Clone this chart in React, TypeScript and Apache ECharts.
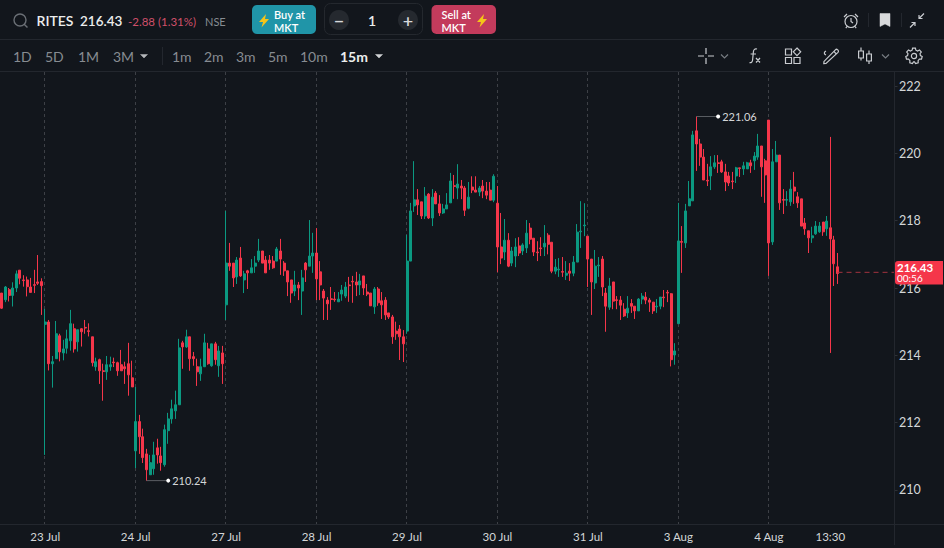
import React, { useEffect, useRef } from "react";
import * as echarts from "echarts";

const opens = [
  215.85,215.65,215.95,215.78,216.00,216.53,216.24,216.24,216.03,216.10,216.18,216.19,
  214.92,214.99,213.75,213.90,214.58,214.07,214.21,214.43,214.79,214.40,214.79,214.83,214.73,214.55,213.66,213.87,213.54,213.51,213.66,213.80,213.78,213.72,213.66,213.75,213.33,
  211.16,212.03,211.58,211.07,210.45,210.63,211.25,211.01,210.75,211.76,212.11,212.35,212.53,214.37,214.25,214.55,213.96,213.66,213.45,213.66,214.19,213.69,214.34,213.69,214.07,
  215.50,216.74,216.74,216.33,216.89,216.24,216.51,216.45,216.65,216.83,217.10,216.83,216.83,216.80,216.80,217.10,216.74,216.51,216.24,215.91,216.09,215.91,216.74,216.65,216.95,
  217.04,216.48,215.91,215.64,215.68,215.67,215.59,215.82,215.76,216.09,216.20,216.18,216.09,216.36,215.88,215.85,215.44,215.97,215.62,215.64,215.26,215.14,214.72,214.78,214.55,
  214.72,216.80,218.44,218.62,218.56,218.14,218.79,218.08,218.82,218.50,218.23,218.35,218.53,219.04,218.97,219.03,218.97,218.37,219.00,218.91,218.85,219.03,218.88,218.91,218.61,
  218.52,217.22,217.07,217.42,216.74,216.95,217.25,217.10,217.19,217.78,217.48,217.07,217.19,217.22,217.57,217.36,216.50,216.54,216.49,216.38,216.50,216.44,216.77,217.67,217.85,
  217.54,216.86,216.15,216.66,216.86,215.85,215.43,216.18,215.65,215.64,215.37,215.26,215.54,215.46,215.32,215.67,215.73,215.64,215.58,215.44,215.46,215.73,215.87,215.83,214.01,
  214.94,217.38,217.34,218.44,218.59,220.67,220.28,219.89,219.20,219.33,219.60,219.72,219.75,219.45,219.33,219.18,219.33,219.57,219.54,219.54,219.72,219.78,219.89,220.22,219.78,
  220.99,217.37,219.75,219.95,218.63,218.61,218.56,219.00,218.71,218.65,217.93,217.70,217.49,217.61,217.67,217.96,217.76,217.79,217.43,216.63,
];
const closes = [
  215.40,216.03,215.78,216.00,216.42,216.29,216.22,216.04,215.87,216.08,216.14,216.07,
  214.99,213.75,213.81,214.64,214.10,214.19,214.49,214.94,214.19,214.76,214.70,214.81,214.71,213.78,213.81,213.54,213.52,213.72,213.72,213.78,213.54,213.54,213.60,213.42,213.06,
  212.03,211.58,210.96,210.60,210.81,211.04,211.04,210.81,211.79,212.11,212.41,212.53,214.22,214.25,214.55,213.90,213.90,213.51,213.66,214.37,213.75,214.34,213.87,214.13,213.75,
  216.74,216.65,216.30,216.83,216.36,216.42,216.45,216.60,216.74,217.10,216.74,216.45,216.74,216.60,217.16,216.86,216.51,216.18,215.85,216.09,216.00,216.30,216.54,216.95,217.04,
  216.27,216.09,215.70,215.53,215.66,215.65,215.67,215.94,216.03,216.07,216.18,216.09,216.21,216.00,215.82,215.47,215.97,215.56,215.50,215.20,215.14,214.55,214.64,214.55,214.34,
  216.80,218.29,218.62,218.47,218.14,218.73,218.08,218.70,218.50,218.23,218.35,218.47,219.18,219.02,219.09,218.97,218.31,218.70,218.91,218.85,218.97,218.88,218.76,218.61,219.32,
  217.22,216.89,217.42,216.65,217.10,217.22,217.04,217.28,217.63,217.45,217.07,217.05,217.17,217.33,217.30,216.50,216.62,216.56,216.47,216.44,216.44,216.77,217.66,217.69,217.87,
  216.86,216.18,216.65,216.68,216.03,215.46,216.06,215.61,215.63,215.49,215.17,215.40,215.46,215.32,215.67,215.76,215.64,215.58,215.32,215.46,215.73,215.71,215.85,213.87,214.13,
  217.40,217.36,218.29,218.65,220.55,220.28,219.89,219.21,219.18,219.60,219.72,219.70,219.45,219.15,219.12,219.16,219.57,219.55,219.63,219.72,219.63,219.92,220.22,219.60,219.36,
  217.34,219.75,219.95,218.53,218.61,218.63,218.94,218.88,218.53,217.84,217.76,217.49,217.55,217.84,217.84,217.67,217.99,217.46,216.72,216.43,
];
const highs = [
  215.85,216.06,216.00,216.17,216.52,216.53,216.38,216.34,216.30,216.54,216.98,216.29,
  215.38,215.05,213.98,215.02,214.64,214.46,214.76,215.35,214.94,214.76,214.81,215.05,214.95,214.55,213.93,213.90,213.75,213.98,213.96,213.93,213.81,214.16,213.81,214.37,213.84,
  213.06,212.23,211.82,211.22,211.04,211.43,211.52,211.28,211.94,212.29,212.68,212.95,214.49,214.43,214.76,214.55,214.10,213.90,213.90,214.64,214.37,214.34,214.40,214.28,214.28,
  218.29,217.34,216.74,216.92,217.22,216.51,216.54,216.86,216.95,217.46,217.10,216.95,216.98,216.95,217.22,217.46,216.80,216.51,216.24,216.51,216.18,216.54,216.77,218.02,217.64,
  217.78,216.80,215.97,215.73,216.03,215.88,215.88,216.09,216.18,216.33,216.36,216.48,216.42,216.36,216.12,215.85,216.03,216.03,215.88,215.73,215.26,215.20,215.00,214.90,214.75,
  217.58,218.53,219.77,218.94,218.56,219.00,218.82,218.94,218.88,218.76,218.50,218.82,219.42,219.36,219.68,219.21,219.03,219.15,219.32,219.32,219.03,219.21,219.15,219.15,219.38,
  219.03,218.23,218.05,217.63,217.22,217.48,217.51,217.33,218.02,217.93,217.48,217.39,217.51,217.87,217.63,217.36,216.86,216.89,216.92,216.80,216.74,216.95,217.90,218.58,218.52,
  217.54,216.86,217.13,216.92,216.95,216.00,216.30,216.18,215.76,215.76,215.55,215.76,215.67,215.46,215.70,215.85,215.88,215.70,215.58,215.67,215.73,215.94,215.94,215.85,214.36,
  218.53,217.84,218.50,219.18,220.67,221.10,220.43,220.13,219.69,219.92,219.95,219.95,219.81,219.69,219.45,219.45,219.60,219.57,219.75,219.75,219.81,220.04,220.58,220.22,219.84,
  220.99,220.13,220.37,219.95,218.94,218.88,219.21,219.45,218.85,218.65,218.08,217.70,217.82,217.99,217.96,217.96,218.14,220.49,217.55,217.04,
];
const lows = [
  215.38,215.58,215.60,215.45,215.88,216.11,216.04,215.75,215.87,215.85,216.09,215.20,
  211.04,213.55,213.04,213.90,213.82,213.85,214.05,214.14,214.08,214.11,214.26,214.64,214.56,213.67,213.54,213.15,212.65,213.27,213.54,213.65,213.39,213.54,213.15,212.80,213.06,
  210.65,211.07,210.80,210.27,210.45,210.45,210.78,210.57,210.69,211.37,211.97,212.11,212.53,213.60,214.22,213.54,213.69,213.09,213.24,213.66,213.72,213.66,213.72,213.36,213.15,
  215.05,216.51,216.03,216.12,216.33,215.85,215.97,216.45,216.45,216.77,216.74,216.45,216.54,216.57,216.80,216.39,216.36,215.76,215.56,215.76,215.64,215.20,216.18,216.65,216.45,
  215.64,215.64,215.05,215.05,215.35,215.59,215.59,215.62,215.70,215.59,215.56,215.76,215.79,215.79,215.76,215.47,215.23,215.47,215.08,215.05,215.08,214.34,214.46,213.86,213.80,
  214.64,216.80,218.26,218.17,218.05,218.05,218.05,217.84,218.50,218.14,218.20,218.35,218.53,218.65,218.64,218.64,218.14,218.34,218.82,218.85,218.73,218.67,218.64,218.61,218.55,
  216.47,216.71,216.83,216.62,216.65,216.62,216.95,216.98,217.04,217.30,216.95,216.80,216.95,216.95,217.00,216.44,216.41,216.33,216.33,216.24,216.21,216.35,216.77,217.19,217.54,
  216.03,215.20,215.97,216.33,215.76,214.70,215.35,215.37,215.37,215.05,215.14,215.11,215.26,215.08,215.32,215.52,215.52,215.29,215.23,215.26,215.37,215.43,215.58,213.67,213.72,
  214.94,216.45,217.19,218.44,218.59,219.48,219.63,219.21,219.03,218.91,219.54,219.42,219.42,218.88,219.03,218.94,219.12,219.30,219.36,219.54,219.42,219.51,219.81,218.71,218.53,
  216.36,217.28,219.75,218.32,218.20,218.44,218.44,218.50,218.38,217.84,217.58,217.04,217.34,217.58,217.64,217.55,217.55,214.07,216.06,216.12,
];

const dayStartIndexes = [12, 37, 62, 87, 112, 137, 162, 187, 212];
const dayLabels = ["23 Jul", "24 Jul", "27 Jul", "28 Jul", "29 Jul", "30 Jul", "31 Jul", "3 Aug", "4 Aug"];
const timeLabelIndex = 229;
const timeLabel = "13:30";
const priceTicks = [210, 212, 214, 216, 218, 220, 222];
const highestPoint = { from: 192, to: 198, value: 221.06 };
const lowestPoint = { from: 40, to: 46, value: 210.24 };
const lastPrice = 216.43;
const lastIndex = 231;
const axisEndIndex = 247;
const bandCount = 248;

const BG = "#12161c";
const GREEN = "#0b9981";
const RED = "#f5364a";
const FONT = "Lato";
const LINE = "#23272e";
const MUTED = "#878c92";
const ICON = "#c9ccd0";

const iconPaths: Record<string, string> = {
  magnifier: "M13 7A6 6 0 1 1 1 7A6 6 0 1 1 13 7Z M11.4 11.4L14.5 14.6",
  alarm: "M14 9A6 6 0 1 1 2 9A6 6 0 1 1 14 9Z M8 5.5V9L10 10.5 M1 4.5L4 1.5 M15 4.5L12 1.5 M4 14L2.8 15.6 M12 14L13.2 15.6",
  bookmark: "M0 0H10V13L5 10.4L0 13Z",
  compress: "M14 0L9 5 M9 1.5V5H12.5 M0 14L5 9 M1.5 9H5V12.5",
  crosshair: "M8 0V6 M8 10V16 M0 8H6 M10 8H16",
  chevron: "M0 0L3.5 3.5L7 0",
  caret: "M0 0H7L3.5 3.5Z",
  fx: "M9 1C6.8 .4 5.6 1.6 5.4 3.8L4.6 12C4.4 14 3.2 15 1.5 14.6 M2.6 6H8 M8 10L12 14.5 M12 10L8 14.5",
  patterns: "M0 1H6V7H0Z M0 9.5H6V15.5H0Z M8.5 9.5H14.5V15.5H8.5Z M11.5 0L15.2 3.8L11.5 7.6L7.8 3.8Z",
  pencil: "M3 15.5L.8 15.7L1 13.4L12.4 1.8C13 1.2 14 1.2 14.6 1.8L15 2.2C15.6 2.8 15.6 3.8 15 4.4Z M10.8 3.4L13.4 6 M3 3C1 4 .5 6 3 7",
  candles: "M3 0V3.5 M.6 3.5H5.4V10.5H.6Z M3 10.5V13 M11 3V6.5 M8.6 6.5H13.4V13.5H8.6Z M11 13.5V16.5",
  gear: "M6.6 .6H9.4L9.9 2.7L11.6 3.5L13.5 2.4L15.3 4.5L14 6.2L14.4 8L16.2 9L15.5 11.6L13.4 11.7L12.1 13.1L12.2 15.2L9.6 16L8.5 14.3H7.5L6.4 16L3.8 15.2L3.9 13.1L2.6 11.7L.5 11.6L-.2 9L1.6 8L2 6.2L.7 4.5L2.5 2.4L4.4 3.5L6.1 2.7Z M10.6 8.5A2.6 2.6 0 1 1 5.4 8.5A2.6 2.6 0 1 1 10.6 8.5Z",
  bolt: "M7 0L0 8H4L2.5 13.5L10 5H6Z",
};
Object.keys(iconPaths).forEach((name) => {
  echarts.graphic.registerShape(name, (echarts.graphic as any).extendPath(iconPaths[name], {}));
});

function text(x: number, y: number, value: string, font: string, fill: string, align = "left") {
  return {
    type: "text",
    x,
    y,
    z: 30,
    silent: true,
    style: { text: value, font, fill, textAlign: align, textVerticalAlign: "middle" },
  };
}
function icon(name: string, x: number, y: number, stroke: string, fill = "none", lineWidth = 1.2) {
  return { type: name, x, y, z: 30, silent: true, style: { stroke, fill, lineWidth } };
}
function rule(x1: number, y1: number, x2: number, y2: number, stroke = LINE) {
  return { type: "line", z: 20, silent: true, shape: { x1, y1, x2, y2 }, style: { stroke, lineWidth: 1 } };
}
function snapToPixelCentre(x: number) {
  const doubled = Math.round(x * 2);
  return (doubled + 1) % 2 === 0 ? doubled / 2 : (doubled - 1) / 2;
}

export default function App() {
  const ref = useRef<HTMLDivElement>(null);
  useEffect(() => {
    document.body.style.margin = "0";
    document.body.style.background = BG;
    const chart = echarts.init(ref.current!, null, { renderer: "svg" });

    const labelAt: Record<number, string> = { [timeLabelIndex]: timeLabel };
    dayStartIndexes.forEach((idx, k) => (labelAt[idx] = dayLabels[k]));
    const categories = Array.from({ length: bandCount }, (_, i) => labelAt[i] || "");
    const candles = opens.map((o, i) => [o, closes[i], lows[i], highs[i]]);

    const extreme = (p: { from: number; to: number; value: number }) => ({
      type: "line",
      yAxisIndex: 1,
      z: 6,
      silent: true,
      showAllSymbol: true,
      data: [
        [p.from, p.value],
        [p.to, p.value],
      ],
      symbol: "circle",
      symbolSize: (_: any, params: any) => (params.dataIndex === 1 ? 4 : 0),
      itemStyle: { color: "#ffffff" },
      lineStyle: { color: "#5a5e63", width: 1 },
      label: {
        show: true,
        position: "right",
        distance: 2,
        color: "#d4d6d8",
        fontFamily: FONT,
        fontSize: 11,
        formatter: (params: any) => (params.dataIndex === 1 ? p.value.toFixed(2) : ""),
      },
    });

    chart.setOption({
      animation: false,
      backgroundColor: BG,
      grid: { left: -0.53, top: 72, width: 897.76, height: 452, containLabel: false },
      xAxis: {
        type: "category",
        data: categories,
        boundaryGap: true,
        axisLine: { show: false },
        axisTick: { show: false },
        splitLine: { show: false },
        axisLabel: {
          interval: (i: number) => !!labelAt[i],
          hideOverlap: false,
          color: "#d4d6d8",
          fontFamily: FONT,
          fontSize: 11.5,
          margin: 6,
        },
      },
      yAxis: [
        {
          type: "value",
          position: "right",
          offset: -2.73,
          min: 208.987,
          max: 222.419,
          scale: true,
          splitLine: { show: false },
          axisLine: { show: false },
          axisTick: { show: true, length: 3, lineStyle: { color: "#2c3037" }, customValues: priceTicks },
          axisLabel: {
            color: "#d4d6d8",
            fontFamily: FONT,
            fontSize: 12.5,
            margin: 4.5,
            customValues: priceTicks,
          },
        },
        { type: "value", show: false, min: 208.951, max: 222.383, scale: true, splitLine: { show: false } },
      ],
      series: [
        {
          type: "custom",
          z: 1,
          silent: true,
          clip: false,
          data: dayStartIndexes.map((i) => [i, 216]),
          encode: { x: 0, y: 1 },
          renderItem: (params: any, api: any) => {
            const p = api.coord([api.value(0), api.value(1)]);
            const x = snapToPixelCentre(p[0]);
            return {
              type: "line",
              shape: { x1: x, y1: params.coordSys.y, x2: x, y2: params.coordSys.y + params.coordSys.height },
              style: { stroke: "#3d4046", lineWidth: 1, lineDash: [3, 3], fill: "none" },
            };
          },
        },
        {
          type: "candlestick",
          data: candles,
          barWidth: 2.5,
          z: 2,
          silent: true,
          clip: false,
          itemStyle: { color: GREEN, color0: RED, borderColor: GREEN, borderColor0: RED, borderWidth: 1, opacity: 1 },
        },
        extreme(highestPoint),
        extreme(lowestPoint),
        {
          type: "line",
          yAxisIndex: 1,
          z: 5,
          silent: true,
          symbol: "none",
          data: [
            [lastIndex, lastPrice],
            [axisEndIndex, lastPrice],
          ],
          lineStyle: { color: "#a3333f", width: 1, type: [5, 4] },
        },
      ],
      graphic: [
        rule(0, 39.5, 944, 39.5),
        rule(0, 71.5, 944, 71.5),
        rule(0, 524.5, 944, 524.5),
        rule(894.5, 72, 894.5, 545),
        rule(162.5, 47, 162.5, 65),
        rule(868.5, 13, 868.5, 27),
        rule(901.5, 13, 901.5, 27),

        icon("magnifier", 13, 13, "#6a6f75", "none", 1.4),
        text(36.5, 20.5, "RITES", `600 14px ${FONT}`, "#eceded"),
        text(80, 20.5, "216.43", `600 13.5px ${FONT}`, "#eceded"),
        text(128, 21, "-2.88 (1.31%)", `11.5px ${FONT}`, "#d0506a"),
        text(205, 21, "NSE", `11px ${FONT}`, MUTED),

        { type: "rect", z: 25, silent: true, shape: { x: 252, y: 5, width: 64, height: 29, r: 5 }, style: { fill: "#2095a8" } },
        icon("bolt", 259, 14, "none", "#f5c518"),
        text(274, 14.5, "Buy at", `600 11px ${FONT}`, "#ffffff"),
        text(274, 27.5, "MKT", `600 11px ${FONT}`, "#ffffff"),

        { type: "rect", z: 25, silent: true, shape: { x: 324.5, y: 3.5, width: 98, height: 31, r: 6 }, style: { fill: "none", stroke: "#24282e", lineWidth: 1 } },
        { type: "circle", z: 25, silent: true, shape: { cx: 339, cy: 20, r: 10 }, style: { fill: "#25292f" } },
        { type: "circle", z: 25, silent: true, shape: { cx: 408, cy: 20, r: 10 }, style: { fill: "#25292f" } },
        text(339, 20, "−", `600 18px ${FONT}`, "#d8dadc", "center"),
        text(408, 20, "+", `600 18px ${FONT}`, "#d8dadc", "center"),
        text(372, 20.5, "1", `600 14px ${FONT}`, "#eceded", "center"),

        { type: "rect", z: 25, silent: true, shape: { x: 431.5, y: 5, width: 64.5, height: 29, r: 5 }, style: { fill: "#c33b5c" } },
        text(441.5, 14.5, "Sell at", `600 11px ${FONT}`, "#ffffff"),
        text(441.5, 27.5, "MKT", `600 11px ${FONT}`, "#ffffff"),
        icon("bolt", 477, 14, "none", "#f5c518"),

        icon("alarm", 843, 12.5, ICON),
        icon("bookmark", 880, 13.5, "#d8dadc", "#d8dadc", 0.5),
        icon("compress", 910, 13.5, ICON),

        text(13, 56.5, "1D", `14px ${FONT}`, MUTED),
        text(45, 56.5, "5D", `14px ${FONT}`, MUTED),
        text(78, 56.5, "1M", `14px ${FONT}`, MUTED),
        text(113, 56.5, "3M", `14px ${FONT}`, MUTED),
        icon("caret", 140.5, 54.5, "#b4b7ba", "#b4b7ba", 0.5),
        text(172, 56.5, "1m", `14px ${FONT}`, MUTED),
        text(204, 56.5, "2m", `14px ${FONT}`, MUTED),
        text(236, 56.5, "3m", `14px ${FONT}`, MUTED),
        text(268, 56.5, "5m", `14px ${FONT}`, MUTED),
        text(300, 56.5, "10m", `14px ${FONT}`, MUTED),
        text(340, 56.5, "15m", `700 14px ${FONT}`, "#eceded"),
        icon("caret", 375.5, 54.5, "#d0d2d4", "#d0d2d4", 0.5),

        icon("crosshair", 698, 48, ICON),
        icon("chevron", 721, 54.5, "#777c82"),
        icon("fx", 748, 48, ICON),
        icon("patterns", 785.5, 48, ICON),
        icon("pencil", 823, 48, ICON),
        icon("candles", 858, 47.5, ICON),
        icon("chevron", 882, 54.5, "#777c82"),
        icon("gear", 906, 47.5, ICON),

        { type: "rect", z: 26, silent: true, shape: { x: 895, y: 261, width: 48, height: 23.5, r: [3, 0, 0, 3] }, style: { fill: RED } },
        {
          type: "text",
          x: 897,
          y: 272.5,
          z: 30,
          silent: true,
          style: {
            text: "{a|216.43}\n{b|00:56}",
            textVerticalAlign: "middle",
            rich: {
              a: { font: `700 11.5px ${FONT}`, fill: "#ffffff", lineHeight: 11 },
              b: { font: `10px ${FONT}`, fill: "#ffffff", lineHeight: 11 },
            },
          },
        },
      ],
    });

    return () => chart.dispose();
  }, []);
  return <div ref={ref} style={{ position: "fixed", left: 0, top: 0, width: 944, height: 548 }} />;
}
